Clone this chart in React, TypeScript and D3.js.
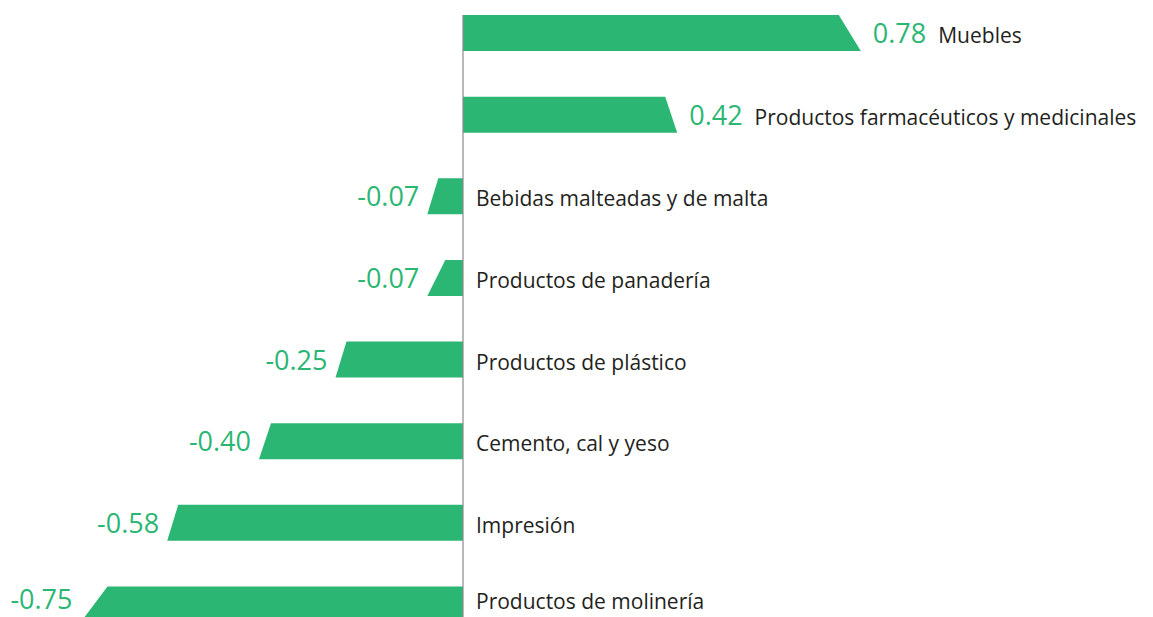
import React from "react";
import * as d3 from "d3";

const categories = [
  "Muebles",
  "Productos farmacéuticos y medicinales",
  "Bebidas malteadas y de malta",
  "Productos de panadería",
  "Productos de plástico",
  "Cemento, cal y yeso",
  "Impresión",
  "Productos de molinería",
];
const values = [0.78, 0.42, -0.07, -0.07, -0.25, -0.4, -0.58, -0.75];
const valueLabels = ["0.78", "0.42", "-0.07", "-0.07", "-0.25", "-0.40", "-0.58", "-0.75"];

// styling: width of each bar's slanted tip (px)
const tipWidths = [22, 12, 11, 18, 11, 12, 11, 27];

const W = 1153;
const H = 617;
const GREEN = "#2bb673";
const TEXT = "#231f20";
const FONT = "'Open Sans', sans-serif";

export default function App() {
  const x = d3.scaleLinear().domain([-1, 1]).range([463 - 510, 463 + 510]);
  const y = d3.scalePoint<string>().domain(categories).range([33, 604.5]);
  const barH = 36;
  const x0 = x(0);

  return (
    <div style={{ position: "absolute", left: 0, top: 0, width: W, height: H, overflow: "hidden", background: "#fff" }}>
      <svg width={W} height={H} style={{ display: "block" }}>
        {categories.map((c, i) => {
          const v = values[i];
          const cy = y(c)!;
          const top = cy - barH / 2;
          const bot = cy + barH / 2;
          const xe = x(v);
          const s = v >= 0 ? 1 : -1;
          const path = d3.path();
          path.moveTo(x0, top);
          path.lineTo(xe - s * tipWidths[i], top);
          path.lineTo(xe, bot);
          path.lineTo(x0, bot);
          path.closePath();
          return <path key={"b" + i} d={path.toString()} fill={GREEN} />;
        })}
        <line x1={x0} x2={x0} y1={15} y2={H} stroke="#8a8a8a" strokeWidth={1.2} />
        {categories.map((c, i) => {
          const v = values[i];
          const cy = y(c)!;
          const base = Math.min(cy + 10, H - 8);
          const xe = x(v);
          if (v >= 0) {
            return (
              <text key={"t" + i} x={xe + 12} y={base} fontFamily={FONT}>
                <tspan fill={GREEN} fontSize={27}>{valueLabels[i]}</tspan>
                <tspan fill={TEXT} fontSize={21} dx={12}>{c}</tspan>
              </text>
            );
          }
          return (
            <g key={"t" + i}>
              <text x={xe - 8} y={base} textAnchor="end" fill={GREEN} fontSize={27} fontFamily={FONT}>
                {valueLabels[i]}
              </text>
              <text x={x0 + 13} y={base} fill={TEXT} fontSize={21} fontFamily={FONT}>
                {c}
              </text>
            </g>
          );
        })}
      </svg>
    </div>
  );
}
